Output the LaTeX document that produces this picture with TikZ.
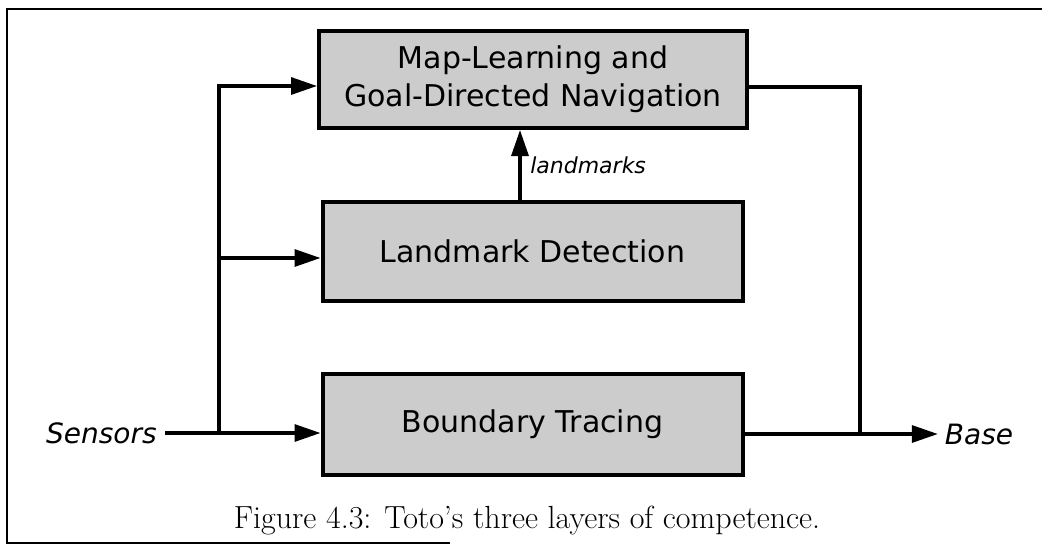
\documentclass[tikz,border=0pt]{standalone}
\usepackage{fontspec}
\usetikzlibrary{arrows.meta}
\newfontfamily\boxfont{DejaVu Sans}

\begin{document}
\begin{tikzpicture}[x=0.5pt, y=-0.5pt, >={Triangle[length=13pt, width=8.5pt]}]
	\tikzstyle{layerbox}=[draw=black, line width=2pt, fill=black!20, minimum width=210pt, minimum height=50pt, font=\boxfont\fontsize{15}{19}\selectfont, align=center]
	\tikzstyle{wire}=[line width=1.6pt]
	\tikzstyle{io}=[font=\boxfont\itshape\fontsize{14}{17}\selectfont]
	
	\useasboundingbox (0,0) rectangle (1042,547);
	% frame of the figure
	\draw[line width=1.2pt] (1042,9) -- (7,9) -- (7,543) -- (450,543);
	
	\node (nav) at (533,79.5) [layerbox, minimum width=214pt, minimum height=48.5pt] {Map-Learning and\\Goal-Directed Navigation};
	\node (detect) at (532.5,251.5) [layerbox, minimum height=49.5pt] {Landmark Detection};
	\node (trace) at (532.5,424.5) [layerbox, minimum height=50.5pt] {Boundary Tracing};
	
	\node (sensors) at (165,433) [io, anchor=east, inner sep=4pt] {Sensors};
	\node (base) at (979,434) [io] {Base};
	
	\coordinate (split) at (219,433);
	\coordinate (merge) at (860,434);
	
	% inputs
	\draw[wire] (sensors.east) -- (split);
	\draw[wire, ->] (split) -- ([yshift=-4.25pt]trace.west);
	\draw[wire, ->] (split) |- ([yshift=-3.25pt]nav.west);
	\coordinate (detin) at ([yshift=-3.25pt]detect.west);
	\draw[wire, ->] (split |- detin) -- (detin);
	
	% landmarks
	\coordinate (lmout) at ([xshift=-6.25pt]detect.north);
	\draw[wire, ->] (lmout) -- node[right, font=\boxfont\itshape\fontsize{11}{13}\selectfont, xshift=1pt] {landmarks} (lmout |- nav.south);
	
	% outputs
	\draw[wire] ([yshift=-3.75pt]nav.east) -| (merge);
	\draw[wire, ->] ([yshift=-4.75pt]trace.east) -- (base.west);
	
	\node (caption) at (527,521) [font=\fontsize{16}{19}\selectfont] {Figure 4.3: Toto's three layers of competence.};
\end{tikzpicture}
\end{document}
